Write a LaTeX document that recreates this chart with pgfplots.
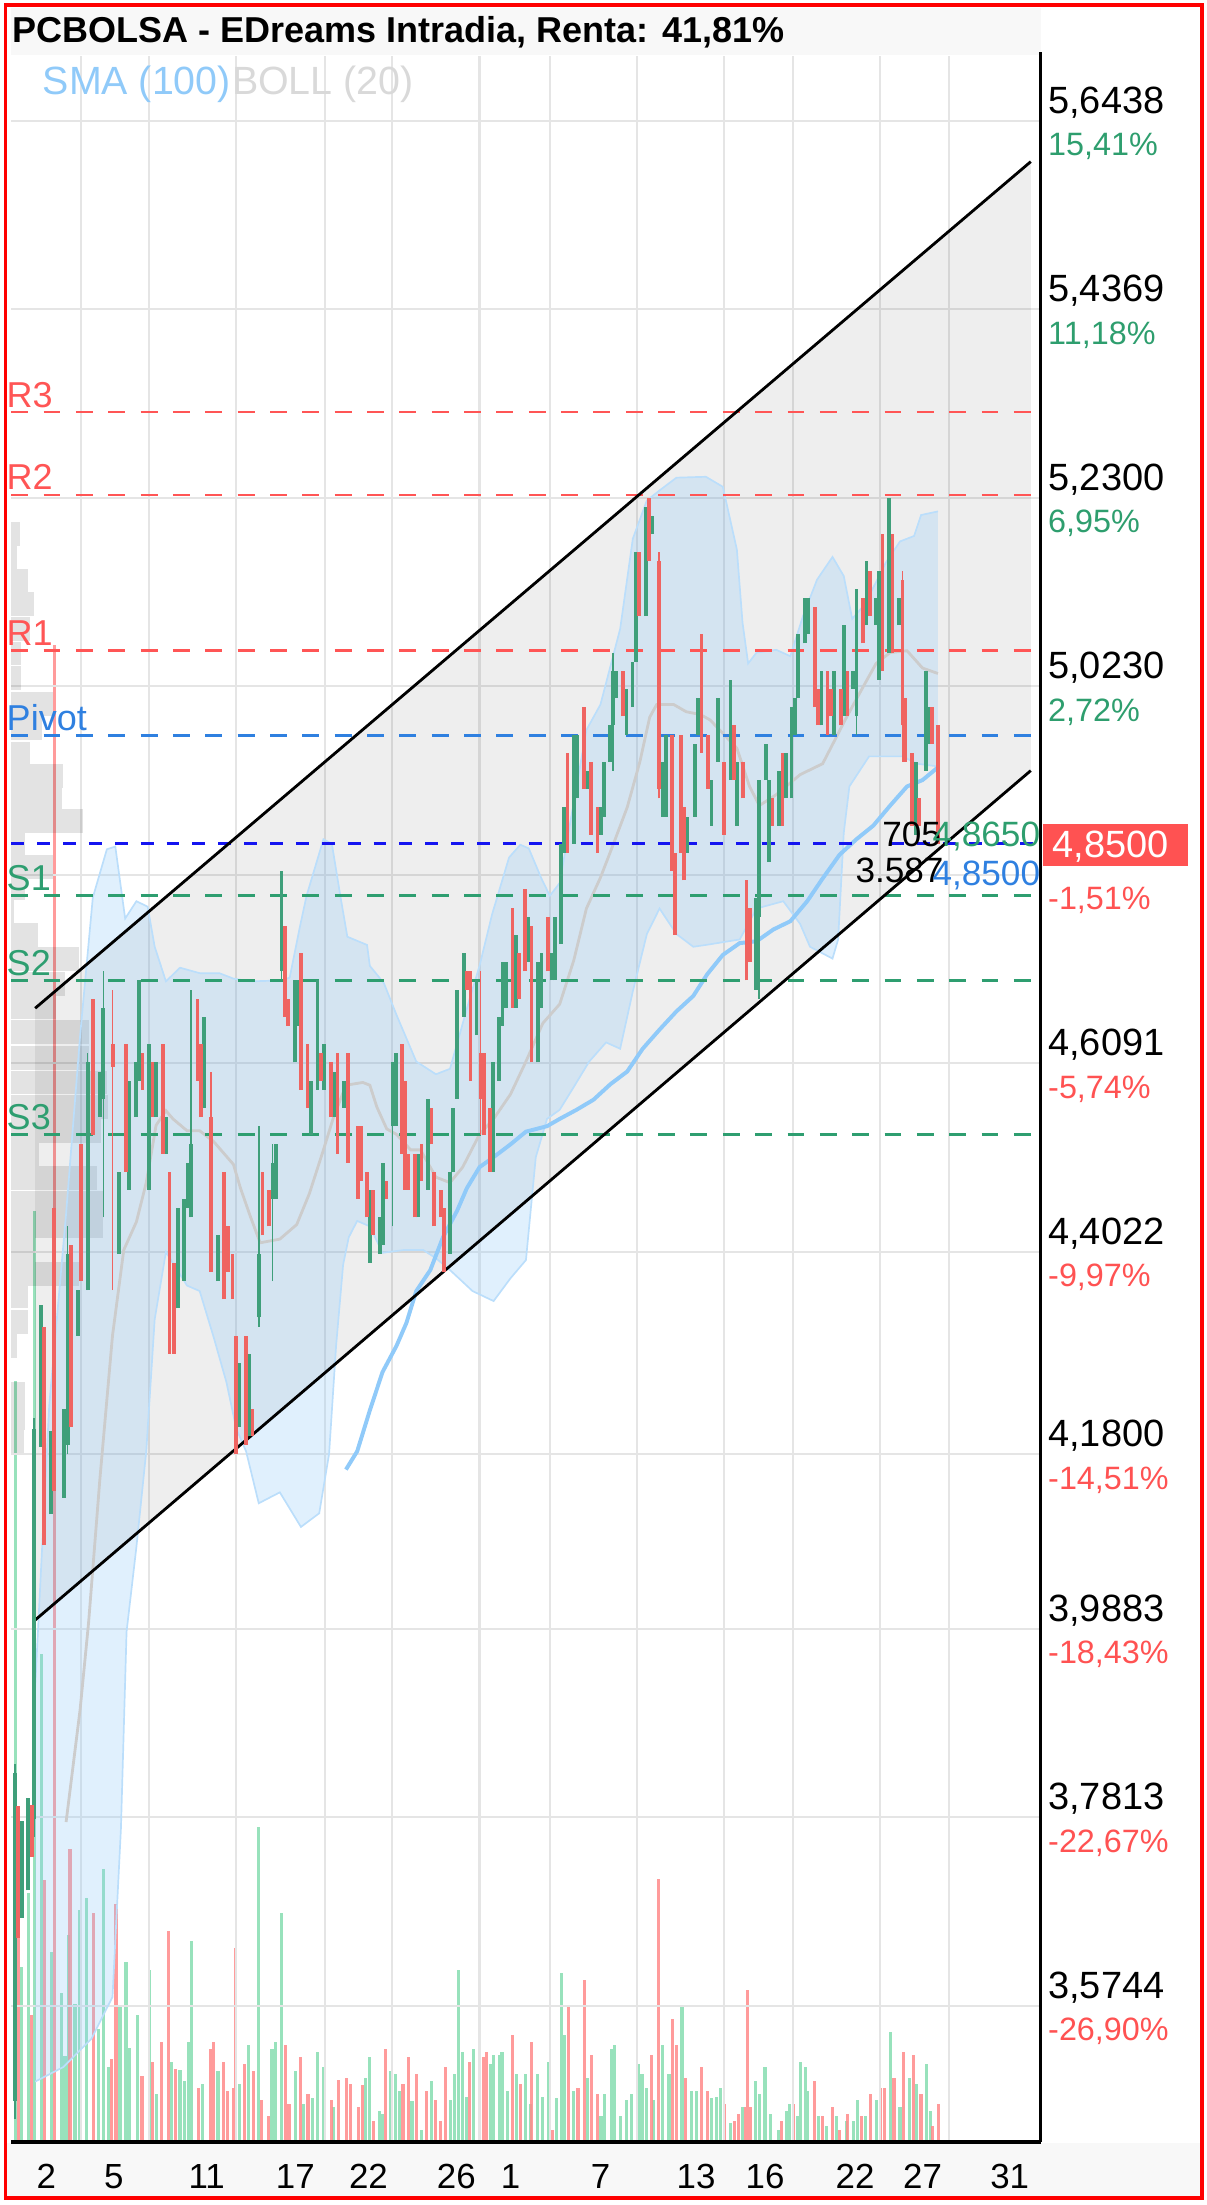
\documentclass[border=0pt]{standalone}
\usepackage{fontspec}
\setmainfont{Liberation Sans}
\usepackage{graphicx}
\usepackage{pgfplots}
\usepackage{pgfplotstable}
\pgfplotsset{compat=1.18}
\definecolor{cgreen}{HTML}{3F9F7A}
\definecolor{cred}{HTML}{EF6461}
\definecolor{vgreen}{HTML}{86DDB0}
\definecolor{vred}{HTML}{FF8A8A}
\definecolor{lvred}{HTML}{FF5555}
\definecolor{lvgreen}{HTML}{2E9E70}
\definecolor{pivotblue}{HTML}{2F80E0}
\definecolor{curblue}{HTML}{1414F0}
\definecolor{smablue}{HTML}{90CAF9}
\definecolor{bandedge}{HTML}{BBDEFB}
\definecolor{midgrey}{HTML}{CCCCCC}
\definecolor{pctgreen}{HTML}{2E9E6E}
\definecolor{pctred}{HTML}{FF5252}
\definecolor{boxred}{HTML}{FF5252}
\definecolor{bandgrey}{HTML}{F8F8F8}
\definecolor{leggrey}{HTML}{D9D9D9}
\newcommand{\lab}{\fontsize{12.8}{12.8}\selectfont}
\newcommand{\pr}{\fontsize{13.5}{13.5}\selectfont}
\newcommand{\pc}{\fontsize{11.5}{11.5}\selectfont}
\newcommand{\an}{\fontsize{12.5}{12.5}\selectfont}
\newcommand{\xl}{\fontsize{12.4}{12.4}\selectfont}
\pgfplotsset{candle/.style={only marks, mark=*, mark size=0pt, mark options={draw opacity=0, fill opacity=0}},
  lvl/.style={line width=0.95pt, dash pattern=on 6pt off 5.5pt}}

\pgfplotstableread{
x o c
10.7 3.47 3.83
15.4 3.671 3.777
20.1 3.701 3.802
24.4 3.779 4.208
29.2 4.188 4.344
36.3 4.114 4.205
45.7 4.132 4.230
48.1 4.19 4.40
55.2 4.31 4.36
62.3 4.36 4.61
71.1 4.55 4.60
73.5 4.57 4.67
84.8 4.40 4.49
92.0 4.47 4.59
96.7 4.55 4.61
99.0 4.59 4.70
106.2 4.47 4.63
111.0 4.55 4.61
118.0 4.51 4.55
126.3 4.34 4.45
131.0 4.37 4.46
133.4 4.45 4.50
135.8 4.44 4.52
145.3 4.56 4.66
154.8 4.37 4.42
170.1 4.21 4.28
177.2 4.20 4.29
184.4 4.33 4.40
193.8 4.46 4.50
196.2 4.46 4.52
200.2 4.71 4.82
209.7 4.61 4.70
212.1 4.65 4.70
221.1 4.53 4.59
225.8 4.58 4.70
230.6 4.58 4.63
237.7 4.55 4.60
244.8 4.56 4.59
263.0 4.39 4.47
270.1 4.40 4.44
272.5 4.41 4.50
279.2 4.54 4.61
281.5 4.54 4.62
297.4 4.44 4.51
304.5 4.47 4.57
319.9 4.40 4.49
322.3 4.49 4.56
324.7 4.57 4.69
329.8 4.66 4.73
338.9 4.64 4.70
350.7 4.49 4.61
355.0 4.59 4.66
357.3 4.65 4.72
359.7 4.67 4.72
366.8 4.67 4.75
375.6 4.72 4.77
382.7 4.61 4.72
385.1 4.67 4.73
392.2 4.70 4.73
394.5 4.70 4.77
398.8 4.74 4.85
401.2 4.84 4.89
408.3 4.85 4.97
410.7 4.90 4.97
417.8 4.91 4.93
427.3 4.86 4.89
429.6 4.88 4.94
433.7 4.94 4.98
436.0 4.98 5.04
438.4 5.01 5.04
445.5 4.97 5.02
449.8 5.00 5.05
452.1 5.05 5.17
459.2 5.10 5.22
464.0 5.19 5.21
471.1 4.88 4.94
473.5 4.88 4.97
488.9 4.84 4.88
494.0 4.88 4.96
496.4 4.97 5.01
505.9 4.87 4.92
510.6 4.94 5.01
519.4 4.92 5.03
524.2 4.87 4.94
537.4 4.69 4.79
539.8 4.77 4.92
544.5 4.92 4.96
546.9 4.83 4.92
554.0 4.87 4.93
558.8 4.90 4.95
562.8 4.90 5.00
565.2 4.97 5.01
567.5 5.01 5.08
572.3 5.07 5.12
574.6 5.08 5.12
584.1 4.98 5.04
593.1 4.97 5.04
600.2 4.99 5.09
606.6 5.02 5.04
609.0 4.99 5.13
616.1 5.09 5.16
622.7 5.09 5.12
625.1 5.03 5.15
632.2 5.06 5.23
639.3 5.09 5.12
651.2 4.86 4.94
658.3 4.93 5.04
660.7 4.96 5.00
}\greencandles

\pgfplotstableread{
x o c
13.0 3.794 3.649
22.5 3.795 3.738
31.5 4.32 4.08
38.6 4.45 4.14
50.5 4.41 4.21
57.6 4.52 4.37
66.4 4.68 4.53
80.1 4.63 4.605
89.6 4.63 4.49
101.4 4.62 4.58
108.5 4.61 4.55
115.7 4.63 4.51
120.5 4.49 4.29
124.0 4.39 4.29
140.5 4.68 4.59
142.9 4.63 4.55
150.0 4.55 4.38
159.5 4.49 4.35
161.9 4.43 4.38
165.4 4.40 4.35
167.8 4.31 4.18
174.9 4.31 4.19
179.6 4.23 4.20
186.7 4.49 4.42
191.5 4.47 4.43
202.6 4.76 4.66
205.0 4.68 4.65
214.0 4.73 4.58
218.7 4.63 4.56
228.2 4.62 4.59
235.3 4.61 4.55
240.0 4.62 4.51
247.2 4.62 4.50
254.3 4.54 4.46
256.6 4.54 4.48
260.7 4.49 4.44
265.4 4.47 4.42
274.9 4.48 4.46
285.6 4.63 4.51
287.9 4.59 4.47
290.3 4.51 4.47
295.0 4.51 4.44
299.8 4.52 4.48
306.9 4.56 4.52
308.8 4.49 4.43
313.5 4.47 4.44
315.9 4.45 4.38
332.2 4.71 4.69
334.6 4.71 4.59
341.7 4.62 4.57
344.1 4.62 4.53
348.3 4.56 4.49
364.4 4.78 4.67
369.2 4.73 4.68
373.2 4.80 4.71
378.0 4.76 4.61
389.8 4.77 4.71
403.6 4.95 4.84
415.4 5.00 4.91
420.1 4.94 4.86
424.9 4.89 4.84
443.1 5.04 4.99
454.5 5.17 5.10
461.6 5.23 5.16
468.7 5.16 4.91
477.7 4.97 4.82
480.1 4.84 4.75
484.1 4.97 4.84
486.5 4.89 4.81
498.8 5.08 4.95
503.5 4.97 4.91
514.7 4.94 4.86
521.8 4.98 4.92
528.4 4.94 4.90
530.8 4.81 4.70
533.2 4.78 4.72
549.3 4.90 4.87
556.4 4.95 4.87
579.4 5.11 5.00
581.7 5.02 4.98
588.4 5.04 4.97
590.8 5.02 4.99
597.9 5.02 4.98
602.6 5.04 4.99
613.7 5.12 5.07
618.5 5.15 5.10
627.5 5.19 5.04
634.6 5.19 5.06
641.7 5.14 4.98
643.4 5.01 4.94
648.8 4.95 4.87
653.6 4.90 4.87
663.0 5.00 4.96
667.1 4.98 4.85
}\redcandles

\pgfplotstableread{
x l h
10.7 3.45 3.84
24.4 3.76 4.22
48.1 4.18 4.43
62.3 4.36 4.62
73.5 4.44 4.71
135.8 4.44 4.69
184.4 4.32 4.54
193.8 4.37 4.52
200.2 4.70 4.82
279.2 4.43 4.61
436.0 4.93 5.06
539.8 4.68 4.92
609.0 4.97 5.13
}\greenwicks

\pgfplotstableread{
x l h
80.1 4.36 4.69
150.0 4.38 4.60
341.7 4.53 4.71
468.7 4.90 5.17
641.7 4.94 5.15
}\redwicks

\pgfplotstableread{
x v
5.9 75
10.7 541
15.4 124
20.1 177
24.4 662
29.2 347
36.3 135
43.8 106
46.2 61
48.6 147
53.3 98
56.9 165
61.6 173
70 80
73.5 194
77 53
85.3 96
89.6 128
92 67
97.5 90
106 122
111 34
122 57
128 51
131.5 43
134 71
136 143
144 41
155 50
170 41
177 69
183.6 224
193.4 66
196 71
200 163
210 50
216 27
222 31
226 64
230 53
237 25
260 45
263 60
269.6 22
272 20
278 50
281 48
284 36
293 29
300 8
307 43
320.6 30
323 48
326 122
328.8 64
331.5 32
337 66
349 55
350.7 62
355 62
357 64
360.6 36
367 48
374 48
377 27
382 48
386 32
390 57
395.6 31
399 120
401.7 76
408 36
418 45
427.4 18
430 34
434.6 66
436.8 69
441 18
445.5 30
449 34
453.7 55
456.5 48
460 38
464.7 30
471 69
475.7 48
485 97
492 36
495 36
505.8 31
509.6 32
512.4 38
519.5 13
527.7 25
537 43
540 34
544 53
548 20
553.5 8
559 22
561.7 27
567 18
569 57
572.7 53
574.3 36
582 18
588 11
594.6 18
601.7 15
607 15
610 30
615.4 18
623.6 30
633 78
640 25
646.6 45
652 41
658.7 55
661.4 22
}\volgreen

\pgfplotstableread{
x v
13 145
22.5 90
31.5 186
38.6 1064
49.8 208
66.4 163
79.5 59
82.5 169
101 47
108.5 57
115 71
119.5 150
125 52
141 38
149.6 66
152 71
159 57
161.7 36
166 38
167.7 138
174 55
180 50
186 30
190.7 18
202.8 69
205.5 27
213.7 60
219 34
235.6 30
241 44
246.6 45
249 41
255 25
257.6 40
265.8 15
274 66
286.6 41
290.4 60
296 48
303 36
309.6 30
313 15
316.7 53
334 57
341 43
343.6 60
346 64
364.4 76
370 41
378 71
393 8
404.4 97
411 38
415.4 115
420.9 62
424.7 34
463 62
468.5 187
478.4 87
481 69
487.7 45
498.7 53
503 36
515 27
522 15
525 20
530.5 25
531.6 108
534 25
556 15
564.4 27
579 43
585 18
592 25
597 8
602.8 20
612.7 18
619 34
626.4 38
629 38
635.7 45
642.3 64
649.4 62
654.9 34
663 11
667.5 27
}\volred

\pgfplotstableread{
len p
14 5.190
12 5.164
20 5.139
24 5.113
21 5.086
15 5.059
15 5.032
38 5.004
30 4.977
21 4.949
45 4.924
44 4.900
59 4.875
18 4.850
38 4.825
18 4.801
10 4.776
27 4.750
56 4.724
46 4.696
40 4.671
63 4.643
63 4.615
76 4.588
77 4.561
72 4.535
28 4.509
69 4.483
73 4.456
73 4.430
25 4.404
56 4.378
20 4.353
20 4.325
12 4.299
8 4.273
18 4.246
18 4.220
17 4.194
}\vprofile

\pgfplotstableread{
x p
25 3.924
35 4.233
47 4.444
57 4.640
66 4.791
76 4.844
82 4.847
89 4.768
97 4.787
105 4.781
110 4.737
118 4.699
128 4.714
142 4.708
156 4.708
166 4.702
178 4.699
200 4.700
206 4.703
213 4.757
218 4.793
230 4.855
236 4.850
242 4.793
247 4.748
261 4.739
263 4.716
273 4.697
282 4.662
296 4.611
310 4.597
320 4.603
334 4.680
341 4.716
350 4.773
362 4.835
370 4.849
376 4.845
385 4.812
391 4.793
398 4.807
417 4.975
427 5.003
441 5.086
450 5.185
460 5.227
469 5.238
481 5.252
502 5.253
514 5.242
524 5.173
528 5.093
532 5.048
538 5.060
552 5.063
562 5.056
571 5.100
581 5.140
592 5.165
600 5.144
606 5.097
615 5.113
630 5.159
640 5.182
650 5.188
655 5.211
667 5.215
}\bollup

\pgfplotstableread{
x p
25 3.491
45 3.507
65 3.538
80 3.584
86 3.769
90 3.985
97 4.078
104 4.183
110 4.328
118 4.402
133 4.365
142 4.359
152 4.308
161 4.259
168 4.208
175 4.183
184 4.126
199 4.138
214 4.100
227 4.115
234 4.180
239 4.299
244 4.388
248 4.418
254 4.436
263 4.430
272 4.401
287 4.404
301 4.404
310 4.395
320 4.382
327 4.372
336 4.359
351 4.348
363 4.373
374 4.393
381 4.506
389 4.548
398 4.558
408 4.583
419 4.611
431 4.632
441 4.625
450 4.688
460 4.751
469 4.779
481 4.751
493 4.737
502 4.739
526 4.745
538 4.779
557 4.787
569 4.762
576 4.737
592 4.724
596 4.745
600 4.862
604 4.913
618 4.946
633 4.946
642 4.946
652 4.938
667 4.935
}\bolllow

\pgfplotstableread{
x p
47 3.776
57 3.900
63 3.995
71 4.152
80 4.310
88 4.404
97 4.435
104 4.478
111 4.541
118 4.557
123 4.548
133 4.535
142 4.535
152 4.523
166 4.498
171 4.472
178 4.441
185 4.412
199 4.416
211 4.432
220 4.466
230 4.514
237 4.549
246 4.585
258 4.588
263 4.585
268 4.561
275 4.537
282 4.531
292 4.514
299 4.514
310 4.484
320 4.478
329 4.495
341 4.531
351 4.548
363 4.575
374 4.611
386 4.653
398 4.674
408 4.722
417 4.779
427 4.813
436 4.849
446 4.890
455 4.940
462 4.989
467 5.003
479 5.003
488 4.995
498 4.992
505 4.986
524 4.955
533 4.913
540 4.892
552 4.904
569 4.926
585 4.938
602 4.989
614 5.023
623 5.048
633 5.060
645 5.062
656 5.043
667 5.037
}\bollmid

\pgfplotstableread{
x p
246 4.163
254 4.183
263 4.228
272 4.270
282 4.299
289 4.324
296 4.359
306 4.382
315 4.418
325 4.447
332 4.472
341 4.495
351 4.506
363 4.520
374 4.534
389 4.540
398 4.548
410 4.558
422 4.569
434 4.586
446 4.600
457 4.625
469 4.646
481 4.666
493 4.683
503 4.707
514 4.728
526 4.741
538 4.743
550 4.756
562 4.765
574 4.787
585 4.812
597 4.838
609 4.855
621 4.870
633 4.892
645 4.913
656 4.920
667 4.934
}\sma

\begin{document}
\begin{tikzpicture}
\useasboundingbox (0pt,0pt) rectangle (429pt,-784pt);
\fill[bandgrey] (4pt,-3pt) rectangle (370pt,-19.5pt);
\fill[bandgrey] (2.5pt,-762pt) rectangle (427pt,-781pt);

% volume
\begin{axis}[at={(4pt,-761.5pt)}, anchor=south west,
  width=366pt, height=741.5pt, scale only axis,
  xmin=8, xmax=740, ymin=0, ymax=1483,
  axis lines=none, ticks=none]
\addplot[ycomb, draw=vgreen, draw opacity=0.85, line width=1.1pt] table[x=x,y=v] {\volgreen};
\addplot[ycomb, draw=vred, draw opacity=0.85, line width=1.1pt] table[x=x,y=v] {\volred};
\end{axis}

% price
\begin{axis}[at={(4pt,-761.5pt)}, anchor=south west,
  width=366pt, height=741.5pt, scale only axis,
  xmin=8, xmax=740, ymin=3.425, ymax=5.7147,
  clip mode=individual,
  axis line style={draw=none},
  tick style={draw=none},
  xtick={57.6,106,168,231,279,341,391,453,515,564,626,675},
  ytick={3.5744,3.7813,3.9883,4.18,4.4022,4.6091,4.8161,5.0230,5.2300,5.4369,5.6438},
  xticklabels={}, yticklabels={},
  xticklabel style={text opacity=0}, yticklabel style={text opacity=0},
  grid=major, major grid style={draw=black!10, line width=0.75pt}]
% channel fill
\addplot[fill=black, fill opacity=0.065, draw=none] coordinates {(25,4.6695) (733,5.599) (733,4.9304) (25,3.9978) (25,4.6695)};
% volume profile
\addplot[xcomb, draw=black, draw opacity=0.11, line width=8.5pt] table[x=len,y=p] {\vprofile};
% bollinger band fill
\addplot[fill=smablue, fill opacity=0.28, draw=none] coordinates {
(25,3.924) (35,4.233) (47,4.444) (57,4.640) (66,4.791) (76,4.844) (82,4.847) (89,4.768) (97,4.787) (105,4.781) (110,4.737) (118,4.699) (128,4.714) (142,4.708) (156,4.708) (166,4.702) (178,4.699) (200,4.700) (206,4.703) (213,4.757) (218,4.793) (230,4.855) (236,4.850) (242,4.793) (247,4.748) (261,4.739) (263,4.716) (273,4.697) (282,4.662) (296,4.611) (310,4.597) (320,4.603) (334,4.680) (341,4.716) (350,4.773) (362,4.835) (370,4.849) (376,4.845) (385,4.812) (391,4.793) (398,4.807) (417,4.975) (427,5.003) (441,5.086) (450,5.185) (460,5.227) (469,5.238) (481,5.252) (502,5.253) (514,5.242) (524,5.173) (528,5.093) (532,5.048) (538,5.060) (552,5.063) (562,5.056) (571,5.100) (581,5.140) (592,5.165) (600,5.144) (606,5.097) (615,5.113) (630,5.159) (640,5.182) (650,5.188) (655,5.211) (667,5.215)
(667,4.935) (652,4.938) (642,4.946) (633,4.946) (618,4.946) (604,4.913) (600,4.862) (596,4.745) (592,4.724) (576,4.737) (569,4.762) (557,4.787) (538,4.779) (526,4.745) (502,4.739) (493,4.737) (481,4.751) (469,4.779) (460,4.751) (450,4.688) (441,4.625) (431,4.632) (419,4.611) (408,4.583) (398,4.558) (389,4.548) (381,4.506) (374,4.393) (363,4.373) (351,4.348) (336,4.359) (327,4.372) (320,4.382) (310,4.395) (301,4.404) (287,4.404) (272,4.401) (263,4.430) (254,4.436) (248,4.418) (244,4.388) (239,4.299) (234,4.180) (227,4.115) (214,4.100) (199,4.138) (184,4.126) (175,4.183) (168,4.208) (161,4.259) (152,4.308) (142,4.359) (133,4.365) (118,4.402) (110,4.328) (104,4.183) (97,4.078) (90,3.985) (86,3.769) (80,3.584) (65,3.538) (45,3.507) (25,3.491)};
\addplot[draw=bandedge, line width=0.6pt] table[x=x,y=p] {\bollup};
\addplot[draw=bandedge, line width=0.6pt] table[x=x,y=p] {\bolllow};
\addplot[draw=midgrey, line width=1pt] table[x=x,y=p] {\bollmid};
\addplot[draw=smablue, line width=1.4pt] table[x=x,y=p] {\sma};
% levels
\addplot[draw=lvred, lvl] coordinates {(8,5.324) (740,5.324)};
\addplot[draw=lvred, lvl] coordinates {(8,5.233) (740,5.233)};
\addplot[draw=lvred, lvl] coordinates {(8,5.062) (740,5.062)};
\addplot[draw=pivotblue, lvl] coordinates {(8,4.969) (740,4.969)};
\addplot[draw=curblue, line width=1.15pt, dash pattern=on 4.6pt off 4.6pt] coordinates {(8,4.85) (740,4.85)};
\addplot[draw=lvgreen, lvl] coordinates {(8,4.793) (740,4.793)};
\addplot[draw=lvgreen, lvl] coordinates {(8,4.700) (740,4.700)};
\addplot[draw=lvgreen, lvl] coordinates {(8,4.531) (740,4.531)};
% channel lines
\addplot[draw=black, line width=1pt] coordinates {(25,4.6695) (733,5.599)};
\addplot[draw=black, line width=1pt] coordinates {(25,3.9978) (733,4.9304)};
% candles
\addplot[candle, error bars/.cd, y dir=plus, y explicit, error mark=none,
  error bar style={draw=cgreen, line width=0.6pt}] table[x=x, y=l, y error expr=\thisrow{h}-\thisrow{l}] {\greenwicks};
\addplot[candle, error bars/.cd, y dir=plus, y explicit, error mark=none,
  error bar style={draw=cred, line width=0.6pt}] table[x=x, y=l, y error expr=\thisrow{h}-\thisrow{l}] {\redwicks};
\addplot[candle, error bars/.cd, y dir=plus, y explicit, error mark=none,
  error bar style={draw=cgreen, line width=1.35pt}] table[x=x, y=o, y error expr=\thisrow{c}-\thisrow{o}] {\greencandles};
\addplot[candle, error bars/.cd, y dir=plus, y explicit, error mark=none,
  error bar style={draw=cred, line width=1.35pt}] table[x=x, y=c, y error expr=\thisrow{o}-\thisrow{c}] {\redcandles};

% axis lines
\draw[black, line width=1.2pt] (axis cs:740,3.425) -- (axis cs:740,5.7194);
\draw[black, line width=1.3pt] (axis cs:8,3.425) -- (axis cs:740,3.425);

% level labels
\node[anchor=base west, inner sep=0pt, text=lvred, font=\lab, xshift=-1.8pt, yshift=1.8pt] at (axis cs:8,5.324) {R3};
\node[anchor=base west, inner sep=0pt, text=lvred, font=\lab, xshift=-1.8pt, yshift=1.8pt] at (axis cs:8,5.233) {R2};
\node[anchor=base west, inner sep=0pt, text=lvred, font=\lab, xshift=-1.8pt, yshift=1.8pt] at (axis cs:8,5.062) {R1};
\node[anchor=base west, inner sep=0pt, text=pivotblue, font=\lab, xshift=-1.8pt, yshift=1.8pt] at (axis cs:8,4.969) {Pivot};
\node[anchor=base west, inner sep=0pt, text=lvgreen, font=\lab, xshift=-1.8pt, yshift=1.8pt] at (axis cs:8,4.793) {S1};
\node[anchor=base west, inner sep=0pt, text=lvgreen, font=\lab, xshift=-1.8pt, yshift=1.8pt] at (axis cs:8,4.700) {S2};
\node[anchor=base west, inner sep=0pt, text=lvgreen, font=\lab, xshift=-1.8pt, yshift=1.8pt] at (axis cs:8,4.531) {S3};

% right price labels
\node[anchor=base west, inner sep=0pt, font=\pr, yshift=2.7pt] at (axis cs:745,5.6438) {5,6438};
\node[anchor=base west, inner sep=0pt, font=\pc, text=pctgreen, yshift=-12.5pt] at (axis cs:745,5.6438) {15,41\%};
\node[anchor=base west, inner sep=0pt, font=\pr, yshift=2.7pt] at (axis cs:745,5.4369) {5,4369};
\node[anchor=base west, inner sep=0pt, font=\pc, text=pctgreen, yshift=-12.5pt] at (axis cs:745,5.4369) {11,18\%};
\node[anchor=base west, inner sep=0pt, font=\pr, yshift=2.7pt] at (axis cs:745,5.2300) {5,2300};
\node[anchor=base west, inner sep=0pt, font=\pc, text=pctgreen, yshift=-12.5pt] at (axis cs:745,5.2300) {6,95\%};
\node[anchor=base west, inner sep=0pt, font=\pr, yshift=2.7pt] at (axis cs:745,5.0230) {5,0230};
\node[anchor=base west, inner sep=0pt, font=\pc, text=pctgreen, yshift=-12.5pt] at (axis cs:745,5.0230) {2,72\%};
\node[anchor=base west, inner sep=0pt, font=\pc, text=pctred, yshift=-12.5pt] at (axis cs:745,4.8161) {-1,51\%};
\node[anchor=base west, inner sep=0pt, font=\pr, yshift=2.7pt] at (axis cs:745,4.6091) {4,6091};
\node[anchor=base west, inner sep=0pt, font=\pc, text=pctred, yshift=-12.5pt] at (axis cs:745,4.6091) {-5,74\%};
\node[anchor=base west, inner sep=0pt, font=\pr, yshift=2.7pt] at (axis cs:745,4.4022) {4,4022};
\node[anchor=base west, inner sep=0pt, font=\pc, text=pctred, yshift=-12.5pt] at (axis cs:745,4.4022) {-9,97\%};
\node[anchor=base west, inner sep=0pt, font=\pr, yshift=2.7pt] at (axis cs:745,4.18) {4,1800};
\node[anchor=base west, inner sep=0pt, font=\pc, text=pctred, yshift=-12.5pt] at (axis cs:745,4.18) {-14,51\%};
\node[anchor=base west, inner sep=0pt, font=\pr, yshift=2.7pt] at (axis cs:745,3.9883) {3,9883};
\node[anchor=base west, inner sep=0pt, font=\pc, text=pctred, yshift=-12.5pt] at (axis cs:745,3.9883) {-18,43\%};
\node[anchor=base west, inner sep=0pt, font=\pr, yshift=2.7pt] at (axis cs:745,3.7813) {3,7813};
\node[anchor=base west, inner sep=0pt, font=\pc, text=pctred, yshift=-12.5pt] at (axis cs:745,3.7813) {-22,67\%};
\node[anchor=base west, inner sep=0pt, font=\pr, yshift=2.7pt] at (axis cs:745,3.5744) {3,5744};
\node[anchor=base west, inner sep=0pt, font=\pc, text=pctred, yshift=-12.5pt] at (axis cs:745,3.5744) {-26,90\%};

% current price box
\fill[boxred] (axis cs:742,4.8717) rectangle (axis cs:845,4.8254);
\node[anchor=base west, inner sep=0pt, font=\pr, text=white, yshift=-4.7pt] at (axis cs:748,4.85) {4,8500};

% annotations
\node[anchor=base west, inner sep=0pt, font=\an] at (axis cs:627,4.847) {705};
\node[anchor=base east, inner sep=0pt, font=\an, text=pctgreen] at (axis cs:740,4.847) {4,8650};
\node[anchor=base west, inner sep=0pt, font=\an] at (axis cs:608,4.807) {3.587};
\node[anchor=base east, inner sep=0pt, font=\an, text=pivotblue] at (axis cs:740,4.804) {4,8500};

% x labels
\node[anchor=base, inner sep=0pt, font=\xl, yshift=-16.5pt] at (axis cs:33,3.425) {2};
\node[anchor=base, inner sep=0pt, font=\xl, yshift=-16.5pt] at (axis cs:81,3.425) {5};
\node[anchor=base, inner sep=0pt, font=\xl, yshift=-16.5pt] at (axis cs:147,3.425) {11};
\node[anchor=base, inner sep=0pt, font=\xl, yshift=-16.5pt] at (axis cs:210,3.425) {17};
\node[anchor=base, inner sep=0pt, font=\xl, yshift=-16.5pt] at (axis cs:262,3.425) {22};
\node[anchor=base, inner sep=0pt, font=\xl, yshift=-16.5pt] at (axis cs:324.5,3.425) {26};
\node[anchor=base, inner sep=0pt, font=\xl, yshift=-16.5pt] at (axis cs:363,3.425) {1};
\node[anchor=base, inner sep=0pt, font=\xl, yshift=-16.5pt] at (axis cs:427,3.425) {7};
\node[anchor=base, inner sep=0pt, font=\xl, yshift=-16.5pt] at (axis cs:495,3.425) {13};
\node[anchor=base, inner sep=0pt, font=\xl, yshift=-16.5pt] at (axis cs:544,3.425) {16};
\node[anchor=base, inner sep=0pt, font=\xl, yshift=-16.5pt] at (axis cs:608,3.425) {22};
\node[anchor=base, inner sep=0pt, font=\xl, yshift=-16.5pt] at (axis cs:656,3.425) {27};
\node[anchor=base, inner sep=0pt, font=\xl, yshift=-16.5pt] at (axis cs:718,3.425) {31};
\end{axis}

% title and legend
\node[anchor=base west, inner sep=0pt, font=\fontsize{12.8}{12.8}\selectfont\bfseries] at (4.3pt,-15pt) {PCBOLSA - EDreams Intradia, Renta: 41,81\%};
\node[anchor=base west, inner sep=0pt, font=\fontsize{14}{14}\selectfont, text=smablue] (sma) at (15pt,-33.5pt) {SMA (100)};
\node[anchor=base west, inner sep=0pt, font=\fontsize{14}{14}\selectfont, text=leggrey] at (sma.base east) {BOLL (20)};

% frame
\draw[red, line width=1.2pt] (1.95pt,-1.75pt) rectangle (427.4pt,-781.5pt);
\end{tikzpicture}
\end{document}
